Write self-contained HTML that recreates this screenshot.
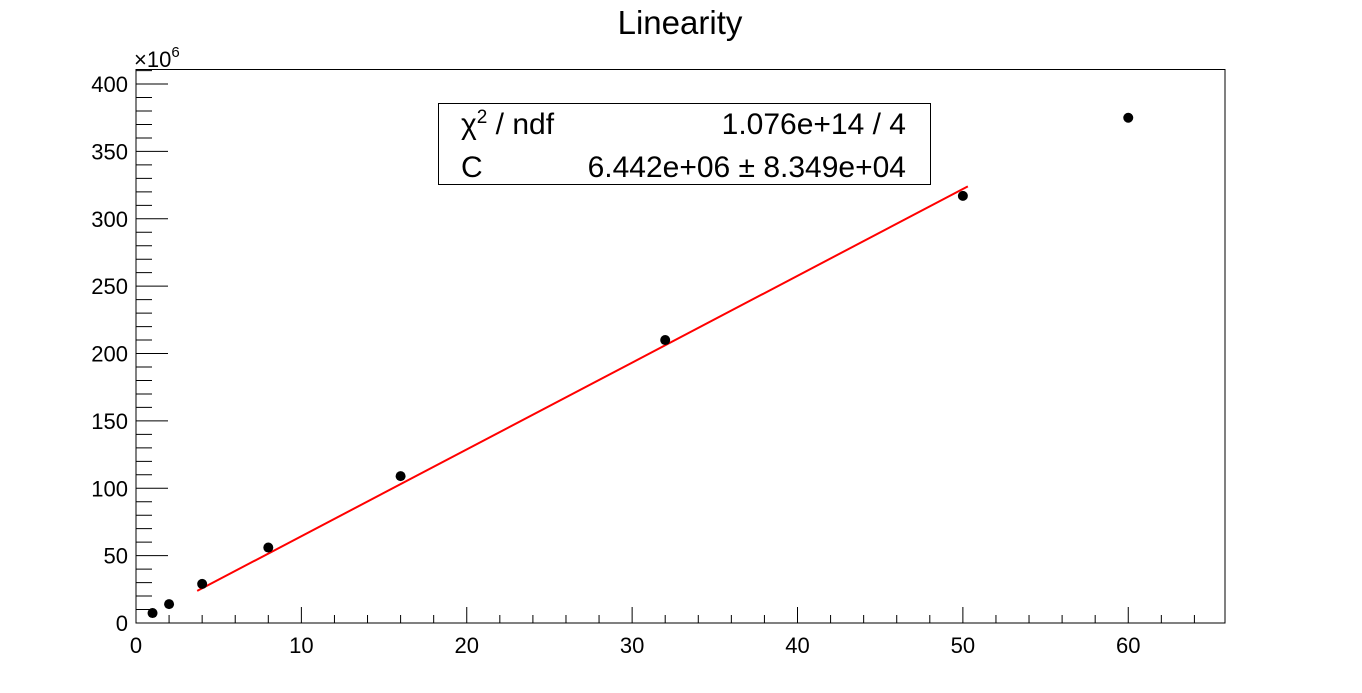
<!DOCTYPE html>
<html><head><meta charset="utf-8"><style>
html,body{margin:0;padding:0;background:#fff;}
svg{display:block;font-family:"Liberation Sans",sans-serif;}
</style></head><body>
<svg id="chart" width="1362" height="693" viewBox="0 0 1362 693">
<rect width="1362" height="693" fill="#fff"/>
<text x="680" y="34" font-size="33" text-anchor="middle">Linearity</text>
<rect x="136" y="69.5" width="1089" height="553.5" fill="none" stroke="#000" stroke-width="1"/>
<g id="axes"></g>
<g id="fit"></g>
<g id="points"></g>
<text x="134" y="67" font-size="22">×10<tspan dy="-10" font-size="15">6</tspan></text>
<g>
<rect x="438.5" y="103.5" width="492" height="81" fill="#fff" stroke="#000"/>
<text x="461" y="134" font-size="30">χ<tspan dy="-11" font-size="19">2</tspan><tspan dy="11"> / ndf</tspan></text>
<text x="906" y="134" font-size="30" text-anchor="end">1.076e+14 / 4</text>
<text x="461" y="177" font-size="30">C</text>
<text x="906" y="177" font-size="30" text-anchor="end">6.442e+06 ± 8.349e+04</text>
</g>
</svg>
<script>
const xData = [1, 2, 4, 8, 16, 32, 50, 60];
const yData = [7.4, 14, 29, 56, 109, 210, 317, 375];
const xTicks = [0, 10, 20, 30, 40, 50, 60];
const yTicks = [0, 50, 100, 150, 200, 250, 300, 350, 400];
const fitSlope = [6.442];
const fitRange = [3.7, 50.3];

const X0=136, X1=1225, Y0=623, Y1=69.5, XMAX=65.85, YMAX=410.8;
const sx = v => X0 + v/XMAX*(X1-X0);
const sy = v => Y0 - v/YMAX*(Y0-Y1);
const NS="http://www.w3.org/2000/svg";
function mk(tag, attrs, parent){const e=document.createElementNS(NS,tag);for(const k in attrs)e.setAttribute(k,attrs[k]);parent.appendChild(e);return e;}
const axes=document.getElementById('axes');
let d="";
for(let v=0; v<=XMAX+1e-9; v+=2){const x=sx(v);const major=Math.abs(v%10)<1e-9;d+=`M${x},${Y0}V${Y0-(major?16:8)}`;}
for(let v=0; v<=YMAX; v+=10){const y=sy(v);const major=Math.abs(v%50)<1e-9;d+=`M${X0},${y}H${X0+(major?32:16)}`;}
const tk=mk('path',{d:d,stroke:'#000','stroke-width':1,fill:'none'},axes);


xTicks.forEach(v=>{const t=mk('text',{x:sx(v),y:653,'font-size':22,'text-anchor':'middle'},axes);t.textContent=v;

});
yTicks.forEach(v=>{const t=mk('text',{x:128,y:sy(v)+8,'font-size':22,'text-anchor':'end'},axes);t.textContent=v;

});
const fit=document.getElementById('fit');
const ln=mk('line',{x1:sx(fitRange[0]),y1:sy(fitSlope[0]*fitRange[0]),x2:sx(fitRange[1]),y2:sy(fitSlope[0]*fitRange[1]),stroke:'#f00','stroke-width':2},fit);


const pts=document.getElementById('points');
xData.forEach((v,i)=>{const c=mk('circle',{cx:sx(v),cy:sy(yData[i]),r:5,fill:'#000'},pts);

});
</script>
</body></html>
